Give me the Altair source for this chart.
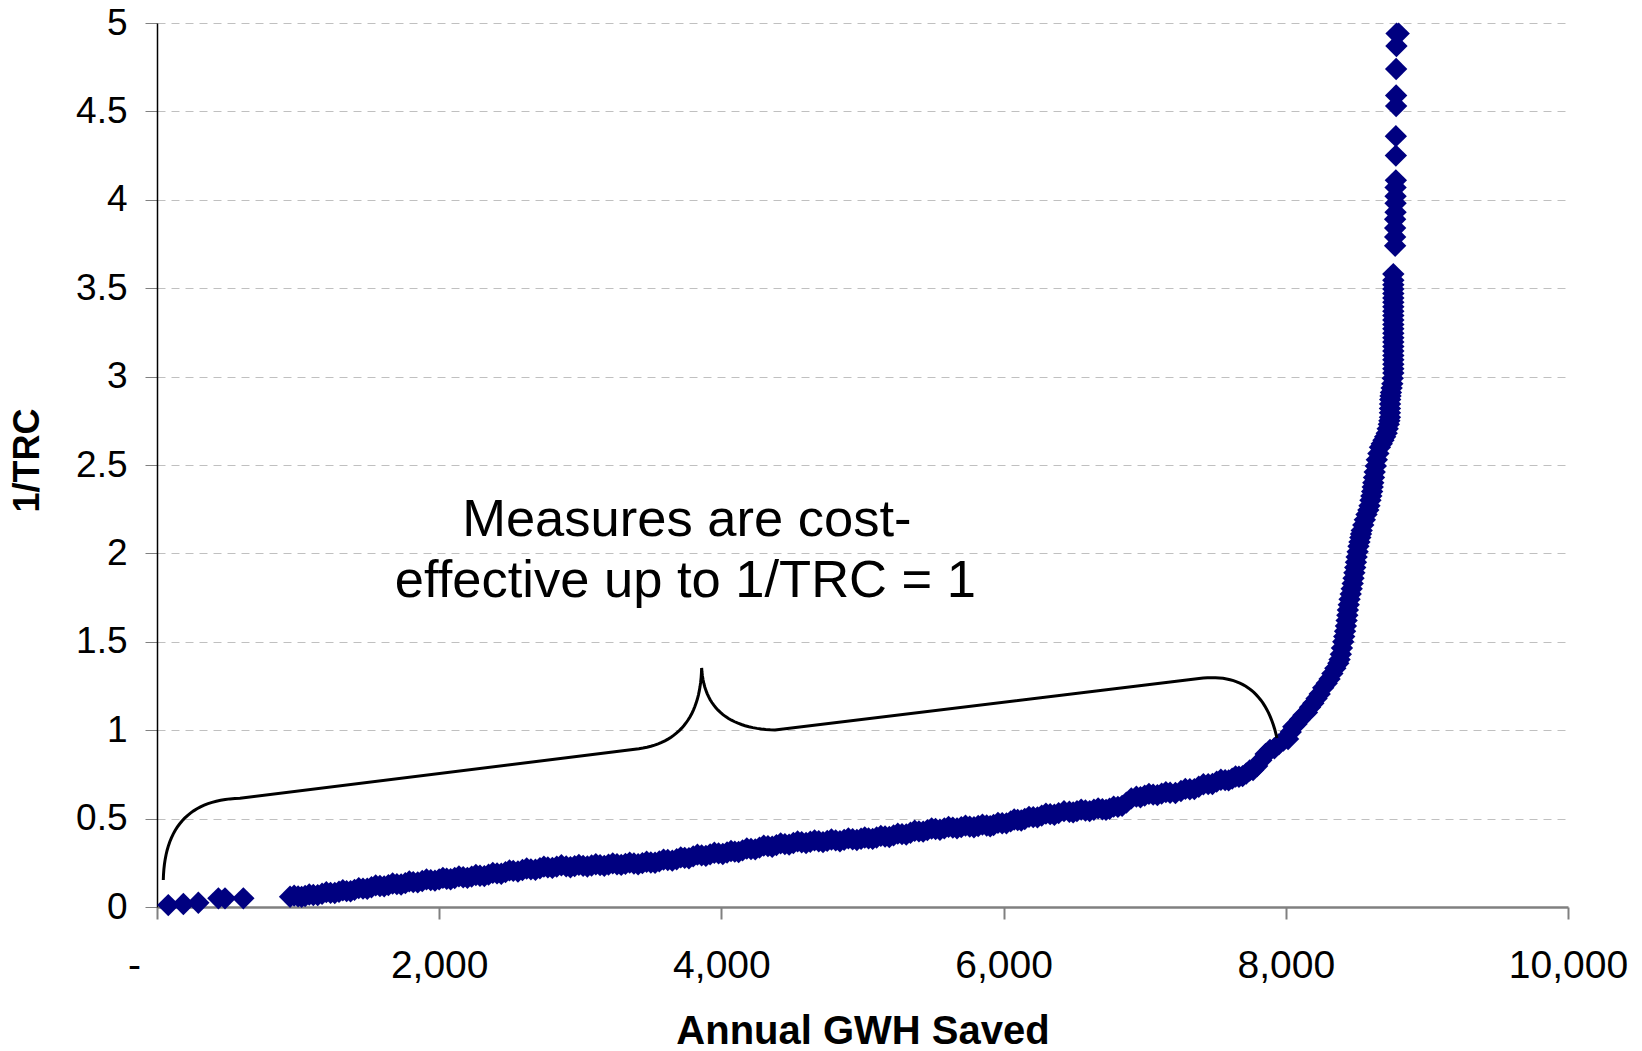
import altair as alt
import pandas as pd
import numpy as np

# ---- data (Annual GWH saved vs 1/TRC) ----
# measures, part 1
gwh_saved = [
    80, 187, 293, 435, 482, 612,
    943, 1000, 1050, 1108, 1170, 1230, 1290, 1344, 1400, 1460, 1520, 1580,
    1640, 1700, 1760, 1816, 1880, 1940, 2000, 2053, 2110, 2170, 2230, 2289,
    2350, 2410, 2470, 2525, 2590, 2650, 2714, 2770, 2833, 2900, 2960, 3020,
    3080, 3140, 3200, 3260, 3320, 3380, 3440, 3500, 3560, 3620, 3683, 3740,
    3800, 3860, 3920, 3980, 4040, 4095, 4150, 4210, 4270, 4330, 4390, 4450,
    4510, 4569, 4630, 4690, 4750, 4810, 4870, 4930, 4990, 5043, 5100, 5160,
    5220, 5280, 5340, 5400, 5460, 5518, 5580, 5640, 5700, 5760, 5820, 5880,
    5929, 5990, 6050, 6100, 6150, 6210, 6270, 6330, 6390, 6466, 6520, 6580,
    6640, 6700, 6751, 6810, 6870, 6941, 7000, 7060, 7120, 7180, 7257, 7320,
    7383, 7450, 7510, 7570, 7620, 7668, 7720, 7768, 7826, 7888, 7950, 8016,
    8053, 8100, 8150, 8195, 8240, 8290, 8330, 8372, 8390, 8407, 8420, 8431,
    8440, 8452, 8467, 8480, 8492, 8502, 8515, 8528, 8538, 8560, 8585, 8600,
    8612, 8620, 8630, 8645, 8667, 8692, 8715, 8730, 8738, 8738, 8740, 8745,
    8755, 8762, 8762, 8762, 8762, 8762, 8762, 8762, 8762, 8762, 8762, 8762,
    8762,
    8775, 8775, 8775, 8775, 8778, 8778, 8778, 8778, 8780, 8780, 8780, 8782,
    8782, 8782, 8784, 8785, 8800,
]
inv_trc = [
    0.011, 0.017, 0.024, 0.049, 0.049, 0.049,
    0.058, 0.060, 0.062, 0.068, 0.075, 0.080, 0.086, 0.090, 0.097, 0.104, 0.112, 0.119,
    0.124, 0.129, 0.135, 0.141, 0.147, 0.152, 0.156, 0.160, 0.164, 0.168, 0.172, 0.177,
    0.183, 0.190, 0.197, 0.204, 0.209, 0.213, 0.219, 0.224, 0.228, 0.230, 0.231, 0.233,
    0.235, 0.237, 0.240, 0.242, 0.244, 0.246, 0.248, 0.252, 0.258, 0.266, 0.270, 0.278,
    0.286, 0.292, 0.298, 0.303, 0.308, 0.313, 0.320, 0.328, 0.336, 0.344, 0.350, 0.356,
    0.362, 0.366, 0.369, 0.372, 0.374, 0.377, 0.380, 0.383, 0.386, 0.388, 0.393, 0.399,
    0.405, 0.412, 0.420, 0.428, 0.435, 0.441, 0.445, 0.449, 0.452, 0.455, 0.458, 0.461,
    0.464, 0.474, 0.484, 0.492, 0.498, 0.508, 0.517, 0.525, 0.531, 0.539, 0.542, 0.546,
    0.550, 0.553, 0.556, 0.566, 0.590, 0.624, 0.630, 0.636, 0.641, 0.646, 0.656, 0.666,
    0.680, 0.695, 0.709, 0.718, 0.726, 0.737, 0.755, 0.775, 0.830, 0.888, 0.920, 0.950,
    1.02, 1.06, 1.10, 1.152, 1.205, 1.265, 1.32, 1.378, 1.43, 1.50, 1.56, 1.62,
    1.68, 1.74, 1.80, 1.86, 1.92, 1.98, 2.04, 2.09, 2.13, 2.19, 2.245, 2.30,
    2.35, 2.40, 2.46, 2.53, 2.60, 2.64, 2.68, 2.73, 2.77, 2.82, 2.87, 2.91,
    2.96, 3.02, 3.07, 3.12, 3.17, 3.22, 3.27, 3.32, 3.37, 3.42, 3.47, 3.52,
    3.58,
    3.74, 3.79, 3.84, 3.89, 3.93, 3.98, 4.02, 4.07, 4.11, 4.25, 4.36, 4.53,
    4.59, 4.74, 4.87, 4.94, 4.94,
]

# measures, part 2 (the overlapping points that thicken the band)
gwh_saved_2 = [
    972, 1025, 1079, 1139, 1200, 1260, 1317, 1372, 1430, 1490, 1550, 1610,
    1670, 1730, 1788, 1848, 1910, 1970, 2026, 2081, 2140, 2200, 2260, 2320,
    2380, 2440, 2498, 2558, 2620, 2682, 2742, 2802, 2866, 2930, 2990, 3050,
    3110, 3170, 3230, 3290, 3350, 3410, 3470, 3530, 3590, 3652, 3712, 3770,
    3830, 3890, 3950, 4010, 4068, 4122, 4180, 4240, 4300, 4360, 4420, 4480,
    4540, 4600, 4660, 4720, 4780, 4840, 4900, 4960, 5016, 5072, 5130, 5190,
    5250, 5310, 5370, 5430, 5490, 5549, 5610, 5670, 5730, 5790, 5850, 5905,
    5960, 6020, 6075, 6125, 6180, 6240, 6300, 6360, 6428, 6493, 6550, 6610,
    6670, 6726, 6780, 6840, 6905, 6970, 7030, 7090, 7150, 7218, 7288, 7352,
    7416, 7480, 7540, 7595, 7644, 7694, 7744, 7797, 7857, 7919, 7983,
    8035, 8076, 8125, 8172, 8218, 8265, 8310, 8351, 8381, 8398, 8414, 8426,
    8436, 8446, 8460, 8474, 8486, 8497, 8509, 8522, 8533, 8549, 8572, 8593,
    8606, 8616, 8625, 8638, 8656, 8680, 8704, 8722, 8734, 8738, 8739, 8742,
    8750, 8758, 8762, 8762, 8762, 8762, 8762, 8762, 8762, 8762, 8762, 8762,
    8762,
]
inv_trc_2 = [
    0.064, 0.057, 0.071, 0.067, 0.084, 0.079, 0.095, 0.089, 0.107, 0.103, 0.122, 0.117,
    0.133, 0.127, 0.145, 0.139, 0.156, 0.149, 0.165, 0.157, 0.173, 0.165, 0.181, 0.175,
    0.193, 0.188, 0.207, 0.201, 0.218, 0.211, 0.228, 0.221, 0.236, 0.225, 0.238, 0.229,
    0.242, 0.233, 0.247, 0.238, 0.251, 0.242, 0.256, 0.250, 0.268, 0.262, 0.281, 0.276,
    0.296, 0.289, 0.307, 0.300, 0.317, 0.311, 0.331, 0.326, 0.347, 0.341, 0.360, 0.353,
    0.371, 0.362, 0.377, 0.367, 0.382, 0.372, 0.388, 0.379, 0.393, 0.385, 0.402, 0.396,
    0.415, 0.410, 0.431, 0.426, 0.444, 0.437, 0.453, 0.445, 0.460, 0.451, 0.466, 0.457,
    0.476, 0.473, 0.495, 0.489, 0.510, 0.507, 0.528, 0.522, 0.542, 0.535, 0.551, 0.542,
    0.558, 0.549, 0.568, 0.572, 0.614, 0.621, 0.640, 0.633, 0.650, 0.645, 0.668, 0.667,
    0.694, 0.696, 0.720, 0.716, 0.738, 0.740, 0.772, 0.797, 0.866, 0.898, 0.942,
    0.99, 1.035, 1.085, 1.13, 1.18, 1.24, 1.29, 1.35, 1.40, 1.465, 1.53, 1.59,
    1.65, 1.71, 1.77, 1.83, 1.89, 1.95, 2.01, 2.065, 2.11, 2.16, 2.22, 2.27,
    2.325, 2.375, 2.43, 2.495, 2.565, 2.62, 2.66, 2.705, 2.75, 2.795, 2.845, 2.89,
    2.935, 2.99, 3.045, 3.095, 3.145, 3.195, 3.245, 3.295, 3.345, 3.395, 3.445, 3.495,
    3.545,
]

x_ticks = [0, 2000, 4000, 6000, 8000, 10000]
y_ticks = [0, 0.5, 1, 1.5, 2, 2.5, 3, 3.5, 4, 4.5, 5]

note_lines = ["Measures are cost-", "effective up to 1/TRC = 1"]
note_x = [3755, 3745]
note_y = [2.098, 1.753]

# curly brace annotation: segments in data units (quadratic curves and lines)
brace_segments = [
    [(44.6, 0.153), (56.7, 0.605), (588, 0.615)],
    [(588, 0.615), (3415, 0.895)],
    [(3415, 0.895), (3848, 0.945), (3860, 1.352)],
    [(3860, 1.352), (3884, 1.012), (4380, 1.001)],
    [(4380, 1.001), (7385, 1.292)],
    [(7385, 1.292), (7831, 1.340), (7937, 0.956)],
]

bx, by = [], []
for seg in brace_segments:
    if len(seg) == 2:
        (x0, y0), (x1, y1) = seg
        bx += [x0, x1]
        by += [y0, y1]
    else:
        (x0, y0), (cx, cy), (x1, y1) = seg
        t = np.linspace(0, 1, 30)
        bx += list((1 - t) ** 2 * x0 + 2 * (1 - t) * t * cx + t ** 2 * x1)
        by += list((1 - t) ** 2 * y0 + 2 * (1 - t) * t * cy + t ** 2 * y1)

points_df = pd.DataFrame({"gwh": gwh_saved + gwh_saved_2, "trc": inv_trc + inv_trc_2})
brace_df = pd.DataFrame({"gwh": bx, "trc": by, "i": range(len(bx))})
note_df = pd.DataFrame({"gwh": note_x, "trc": note_y, "text": note_lines})

FONT = "Liberation Sans"

x_scale = alt.Scale(domain=[0, 10000], nice=False, zero=False)
y_scale = alt.Scale(domain=[0, 5], nice=False)

x_axis = alt.Axis(
    values=x_ticks,
    labelExpr="datum.value == 0 ? '-' : format(datum.value, ',')",
    labelFont=FONT, labelFontSize=39, labelColor="black",
    labelPadding=27, labelFlush=False, labelOverlap=False,
    labelOffset={"condition": {"test": "datum.value == 0", "value": -23}, "value": 0},
    tickSize=12, tickColor="#808080", tickWidth=2,
    domainColor="#808080", domainWidth=2.5,
    grid=False,
    title="Annual GWH Saved",
    titleFont=FONT, titleFontSize=40, titleFontWeight="bold", titleColor="black",
    titleX=705.5, titleY=136, titleBaseline="alphabetic", titleAlign="center",
)

y_axis = alt.Axis(
    values=y_ticks,
    labelExpr="format(datum.value, '~g')",
    labelFont=FONT, labelFontSize=37, labelColor="black",
    labelPadding=18, labelFlush=False, labelOverlap=False,
    tickSize=12, tickColor="#808080", tickWidth=1,
    domainColor="black", domainWidth=1.5,
    grid=True, gridColor="#c0c0c0", gridDash=[8, 6], gridWidth=1,
    title="1/TRC",
    titleFont=FONT, titleFontSize=36, titleFontWeight="bold", titleColor="black",
    titleAngle=270, titleX=-129.5, titleY=437,
    titleAlign="center", titleBaseline="middle",
)

pts = alt.Chart(points_df).mark_point(
    shape="diamond", filled=True, size=500, color="#000080", opacity=1, strokeWidth=0
).encode(
    x=alt.X("gwh:Q", scale=x_scale, axis=x_axis),
    y=alt.Y("trc:Q", scale=y_scale, axis=y_axis),
)

brace = alt.Chart(brace_df).mark_line(color="black", strokeWidth=3).encode(
    x=alt.X("gwh:Q", scale=x_scale),
    y=alt.Y("trc:Q", scale=y_scale),
    order="i:Q",
)

note = alt.Chart(note_df).mark_text(
    font=FONT, fontSize=52.5, color="black", align="center", baseline="alphabetic"
).encode(
    x=alt.X("gwh:Q", scale=x_scale),
    y=alt.Y("trc:Q", scale=y_scale),
    text="text:N",
)

chart = alt.layer(pts, brace, note).properties(
    width=1411, height=884,
    autosize=alt.AutoSizeParams(type="none"),
    padding={"left": 157, "top": 23, "right": 74, "bottom": 144},
    background="white",
).configure_view(stroke=None)

chart.save("out.html", embed_options={"renderer": "svg", "actions": False})
